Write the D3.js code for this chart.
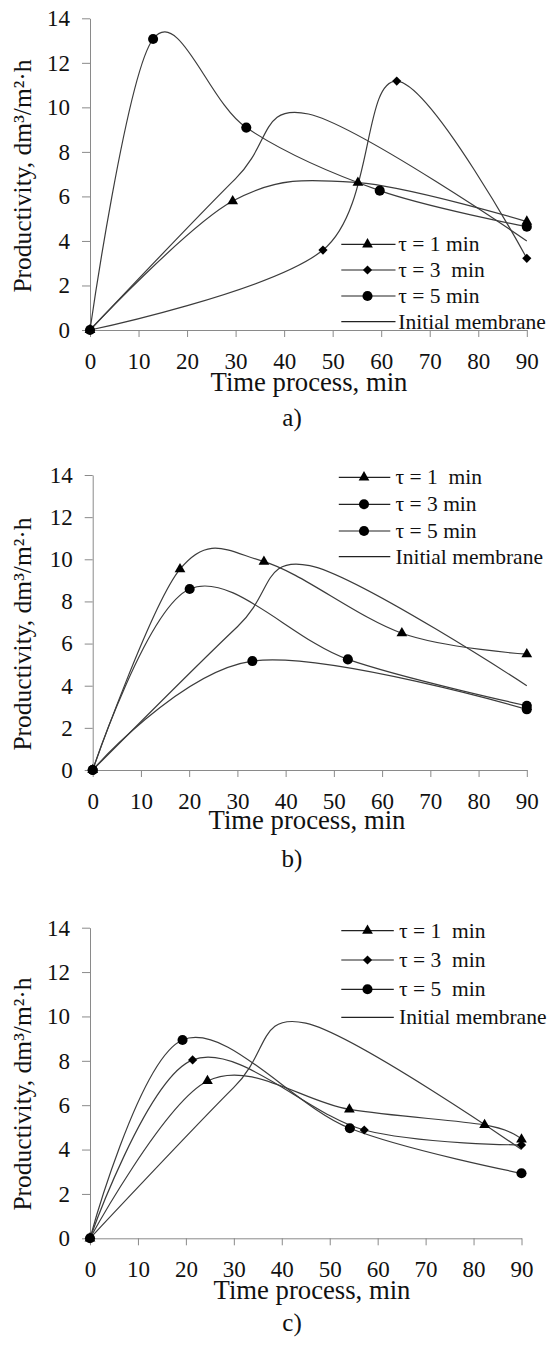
<!DOCTYPE html>
<html>
<head>
<meta charset="utf-8">
<script src="https://cdn.jsdelivr.net/npm/d3@7"></script>
<style>
  body { margin: 0; background: #fff; }
  svg text { font-family: "Liberation Serif", "Times New Roman", serif; fill: #111; }
</style>
</head>
<body>
<svg id="chart" width="548" height="1346"></svg>
<script>
// ---- data ----
var xTicks = [0, 10, 20, 30, 40, 50, 60, 70, 80, 90];
var yTicks = [0, 2, 4, 6, 8, 10, 12, 14];

// same reference curve is in all three panels
var initialMembrane = [[0, 0], [30, 6.8], [45, 9.7], [90, 4.0]];

var aTau1 = [[0, 0], [29.4, 5.79], [55.2, 6.62], [90, 4.87]];
var aTau3 = [[0, 0], [48.0, 3.59], [63.2, 11.18], [90, 3.22]];
var aTau5 = [[0, 0], [13.0, 13.07], [32.2, 9.09], [59.7, 6.26], [90, 4.64]];
var aLabels = ["τ = 1 min", "τ = 3  min", "τ = 5 min", "Initial membrane"];
var aMarkers = ["triangle", "diamond", "circle"];

var bTau1 = [[0, 0], [18.1, 9.53], [35.5, 9.89], [64.1, 6.49], [90, 5.5]];
var bTau3 = [[0, 0], [20.1, 8.59], [52.9, 5.25], [90, 3.05]];
var bTau5 = [[0, 0], [33.1, 5.17], [90, 2.88]];
var bLabels = ["τ = 1  min", "τ = 3 min", "τ = 5 min", "Initial membrane"];
var bMarkers = ["triangle", "circle", "circle"];

var cTau1 = [[0, 0], [24.5, 7.09], [54.1, 5.81], [82.3, 5.11], [90, 4.46]];
var cTau3 = [[0, 0], [21.4, 8.04], [57.2, 4.88], [90, 4.21]];
var cTau5 = [[0, 0], [19.3, 8.94], [54.2, 4.96], [90, 2.93]];
var cLabels = ["τ = 1  min", "τ = 3  min", "τ = 5  min", "Initial membrane"];
var cMarkers = ["triangle", "diamond", "circle"];

var captions = ["a)", "b)", "c)"];
var xTitle = "Time process, min";
var yTitle = "Productivity, dm³/m²·h";

// ---- layout (pixels) ----
var layout = [
  { x0: 90, x1: 526.8, yb: 330, yt: 18.3, yTitleY: 176, xTitleX: 309, xTitleY: 391,
    legRows: [244.3, 270, 296, 321.7], legLine: [341.3, 395.5], legMark: 367.5, legText: 398.3,
    capY: 426 },
  { x0: 92.7, x1: 526.8, yb: 770, yt: 475, yTitleY: 634, xTitleX: 307, xTitleY: 829,
    legRows: [477.3, 504.3, 531, 556.7], legLine: [338.8, 390.3], legMark: 364, legText: 395.5,
    capY: 867 },
  { x0: 90, x1: 521.5, yb: 1238.3, yt: 927.7, yTitleY: 1094, xTitleX: 312, xTitleY: 1299,
    legRows: [930.7, 960, 989.3, 1017.3], legLine: [341.3, 393.8], legMark: 367.5, legText: 399,
    capY: 1331 }
];

var panels = [
  { series: [aTau1, aTau3, aTau5], labels: aLabels, markers: aMarkers },
  { series: [bTau1, bTau3, bTau5], labels: bLabels, markers: bMarkers },
  { series: [cTau1, cTau3, cTau5], labels: cLabels, markers: cMarkers }
];

var lineColor = "#3c3c3c";
var axisColor = "#8a8a8a";

var svg = d3.select("#chart");

function markerPath(kind) {
  if (kind == "triangle") return d3.symbol().type(d3.symbolTriangle).size(50)();
  if (kind == "diamond") return d3.symbol().type(d3.symbolSquare).size(42)();
  return d3.symbol().type(d3.symbolCircle).size(80)();
}
function markerTransform(kind, px, py) {
  return "translate(" + px + "," + py + ")" + (kind == "diamond" ? " rotate(45)" : "");
}

panels.forEach(function(p, i) {
  var L = layout[i];
  var g = svg.append("g");

  var x = d3.scaleLinear().domain([0, 90]).range([L.x0, L.x1]);
  var y = d3.scaleLinear().domain([0, 14]).range([L.yb, L.yt]);

  // axes
  var xAxis = d3.axisBottom(x).tickValues(xTicks).tickSize(7).tickPadding(15.5).tickSizeOuter(0);
  var yAxis = d3.axisLeft(y).tickValues(yTicks).tickSize(8).tickPadding(12).tickSizeOuter(0);

  var xg = g.append("g").attr("transform", "translate(0," + L.yb + ")").call(xAxis);
  var yg = g.append("g").attr("transform", "translate(" + L.x0 + ",0)").call(yAxis);

  [xg, yg].forEach(function(ax) {
    ax.attr("font-family", null).attr("font-size", null);
    ax.select(".domain").attr("stroke", axisColor).attr("stroke-width", 1);
    ax.selectAll(".tick line").attr("stroke", axisColor).attr("stroke-width", 1);
    ax.selectAll(".tick text")
      .attr("font-size", 23)
      .attr("fill", "#111");
  });

  // curves
  var line = d3.line()
    .x(function(d) { return x(d[0]); })
    .y(function(d) { return y(d[1]); })
    .curve(d3.curveCardinal.tension(0));

  g.append("path")
    .datum(initialMembrane)
    .attr("d", line)
    .attr("fill", "none")
    .attr("stroke", lineColor)
    .attr("stroke-width", 1.2);

  p.series.forEach(function(s) {
    g.append("path")
      .datum(s)
      .attr("d", line)
      .attr("fill", "none")
      .attr("stroke", lineColor)
      .attr("stroke-width", 1.2);
  });

  p.series.forEach(function(s, k) {
    var kind = p.markers[k];
    g.selectAll(null)
      .data(s)
      .enter().append("path")
      .attr("d", markerPath(kind))
      .attr("transform", function(d) { return markerTransform(kind, x(d[0]), y(d[1])); })
      .attr("fill", "#000");
  });

  // legend
  var leg = g.append("g");
  p.labels.forEach(function(lab, k) {
    var ry = L.legRows[k];
    leg.append("line")
      .attr("x1", L.legLine[0]).attr("x2", L.legLine[1])
      .attr("y1", ry).attr("y2", ry)
      .attr("stroke", "#222").attr("stroke-width", 1.2);
    if (k < p.markers.length) {
      leg.append("path")
        .attr("d", markerPath(p.markers[k]))
        .attr("transform", markerTransform(p.markers[k], L.legMark, ry))
        .attr("fill", "#000");
    }
    leg.append("text")
      .attr("x", L.legText).attr("y", ry)
      .attr("dy", "0.33em")
      .attr("font-size", 21.5)
      .style("white-space", "pre")
      .attr("xml:space", "preserve")
      .text(lab);
  });

  // titles
  g.append("text")
    .attr("x", L.xTitleX).attr("y", L.xTitleY)
    .attr("text-anchor", "middle")
    .attr("font-size", 26.7)
    .text(xTitle);

  g.append("text")
    .attr("transform", "translate(22.7," + L.yTitleY + ") rotate(-90)")
    .attr("text-anchor", "middle")
    .attr("dy", "0.33em")
    .attr("font-size", 25.5)
    .text(yTitle);

  g.append("text")
    .attr("x", 292).attr("y", L.capY)
    .attr("text-anchor", "middle")
    .attr("font-size", 25)
    .text(captions[i]);
});
</script>
</body>
</html>
